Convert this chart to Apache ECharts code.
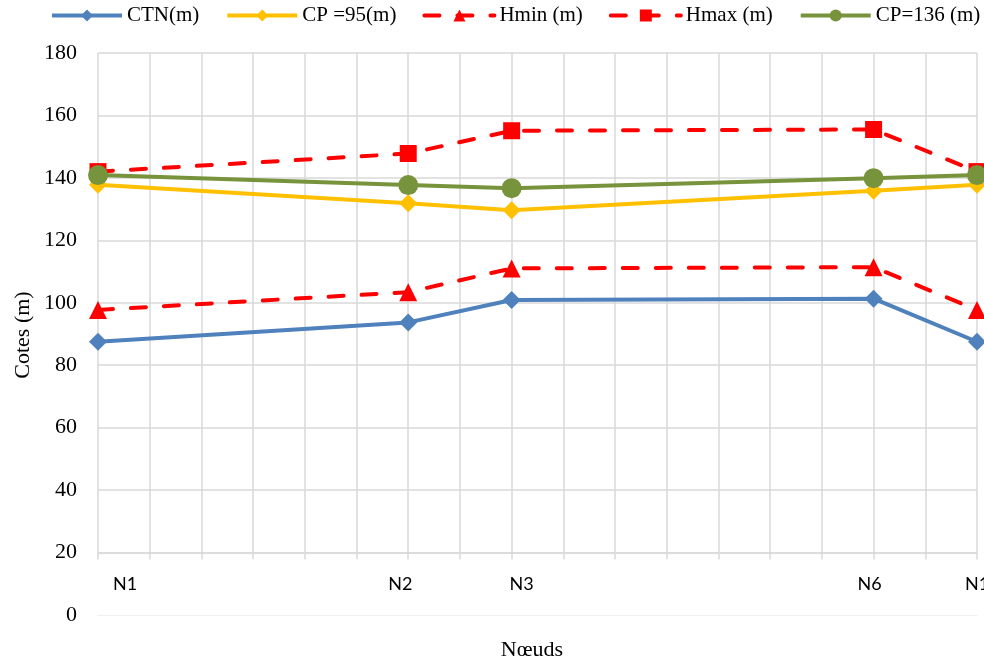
<!DOCTYPE html>
<html>
<head>
<meta charset="utf-8">
<script src="https://cdn.jsdelivr.net/npm/echarts@6/dist/echarts.min.js"></script>
<style>
  html, body { margin: 0; padding: 0; background: #fff; }
  #chart { width: 984px; height: 666px; }
</style>
</head>
<body>
<div id="chart"></div>
<script>
// Node axis: 18 evenly spaced steps, only the network nodes are labelled
const categories = ['N1', '', '', '', '', '', 'N2', '', 'N3', '', '', '', '', '', '', 'N6', '', 'N1'];

// Elevations (m) at each labelled node, in axis order
const ctn   = [87.5, 93.7, 100.9, 101.3, 87.5];
const cp95  = [137.8, 131.9, 129.6, 135.9, 137.8];
const hmin  = [97.7, 103.4, 111.0, 111.4, 97.7];
const hmax  = [142.0, 147.8, 155.1, 155.5, 142.0];
const cp136 = [140.9, 137.7, 136.7, 139.9, 140.9];

// Value axis range
const yMin = 0;
const yAxisBreak = 20;
const yMax = 180;
const yStep = 20;

// Place node values on their axis steps; unlabelled steps stay empty
const slots = categories.map((c, i) => (c ? i : -1)).filter(i => i >= 0);
function spread(vals) {
  const out = categories.map(() => null);
  slots.forEach((s, k) => { out[s] = vals[k]; });
  return out;
}

const serif = '"Liberation Serif", "Times New Roman", serif';
const gridColor = '#d9d9d9';

// Horizontal nudges (px) for node labels under the axis
const labelShift = { 0: 27, 6: -8, 8: 10, 15: -4, 17: 0 };
const rich = {};
Object.keys(labelShift).forEach(k => {
  const d = labelShift[k];
  rich['s' + k] = {
    fontFamily: 'Lato, sans-serif', fontSize: 18, color: '#000',
    padding: d >= 0 ? [0, 0, 0, 2 * d] : [0, -2 * d, 0, 0]
  };
});

function lineSeries(name, vals, color, symbol, size, dashed) {
  return {
    name: name,
    type: 'line',
    xAxisIndex: 0,
    yAxisIndex: 0,
    data: spread(vals),
    connectNulls: true,
    symbol: symbol,
    symbolSize: size,
    showAllSymbol: true,
    lineStyle: {
      color: color,
      width: 4,
      type: dashed ? [15, 18] : 'solid',
      cap: dashed ? 'round' : 'butt'
    },
    itemStyle: { color: color },
    emphasis: { disabled: true },
    animation: false
  };
}

const chart = echarts.init(document.getElementById('chart'), null, { renderer: 'canvas' });

chart.setOption({
  backgroundColor: '#fff',
  animation: false,
  legend: {
    left: 50,
    top: 5,
    padding: 0,
    width: 934,
    itemWidth: 70,
    itemHeight: 15,
    itemGap: 26,
    lineStyle: { width: 4 },
    textStyle: { fontFamily: serif, fontSize: 21, color: '#000' },
    data: ['CTN(m)', 'CP =95(m)', 'Hmin (m)', 'Hmax (m)', 'CP=136 (m)']
  },
  grid: [
    { left: 98, right: 7, top: 53, height: 499.5, containLabel: false, outerBoundsMode: 'none' },
    { left: 98, right: 7, top: 552.5, height: 62.5, containLabel: false, outerBoundsMode: 'none' }
  ],
  xAxis: [
    {
      gridIndex: 0,
      type: 'category',
      data: categories,
      boundaryGap: false,
      axisLine: { show: true, lineStyle: { color: gridColor, width: 1.5 } },
      axisTick: { show: true, interval: 0, length: 7, lineStyle: { color: gridColor, width: 1.5 } },
      axisLabel: {
        interval: 0,
        margin: 23,
        fontFamily: 'Lato, sans-serif',
        fontSize: 18,
        color: '#000',
        formatter: (v, i) => (v ? '{s' + i + '|' + v + '}' : ''),
        rich: rich
      },
      splitLine: { show: true, interval: 0, lineStyle: { color: gridColor, width: 1.5 } }
    },
    {
      gridIndex: 1,
      type: 'category',
      data: categories,
      boundaryGap: false,
      axisLine: { show: true, lineStyle: { color: '#efefef', width: 1 } },
      axisTick: { show: false },
      axisLabel: { show: false },
      splitLine: { show: false }
    }
  ],
  yAxis: [
    {
      gridIndex: 0,
      type: 'value',
      min: yAxisBreak,
      max: yMax,
      interval: yStep,
      axisLine: { show: false },
      axisTick: { show: false },
      axisLabel: { margin: 21, fontFamily: serif, fontSize: 22, color: '#000' },
      splitLine: { show: true, lineStyle: { color: gridColor, width: 1.5 } }
    },
    {
      gridIndex: 1,
      type: 'value',
      min: yMin,
      max: yAxisBreak,
      interval: yStep,
      axisLine: { show: false },
      axisTick: { show: false },
      axisLabel: {
        margin: 21, fontFamily: serif, fontSize: 22, color: '#000',
        formatter: v => (v === yMin ? String(v) : '')
      },
      splitLine: { show: false }
    }
  ],
  graphic: [
    {
      type: 'text',
      x: 23,
      y: 335,
      rotation: Math.PI / 2,
      style: {
        text: 'Cotes (m)',
        fontFamily: serif,
        fontSize: 22,
        fill: '#000',
        align: 'center',
        verticalAlign: 'middle'
      }
    },
    {
      type: 'text',
      x: 532,
      y: 650,
      style: {
        text: 'Nœuds',
        fontFamily: serif,
        fontSize: 22,
        fill: '#000',
        align: 'center',
        verticalAlign: 'middle'
      }
    }
  ],
  series: [
    lineSeries('CTN(m)', ctn, '#4F81BD', 'diamond', 18, false),
    lineSeries('CP =95(m)', cp95, '#FFC000', 'diamond', 18, false),
    lineSeries('Hmin (m)', hmin, '#FF0000', 'triangle', 18, true),
    lineSeries('Hmax (m)', hmax, '#FF0000', 'rect', 17, true),
    lineSeries('CP=136 (m)', cp136, '#77933C', 'circle', 20, false)
  ]
});
</script>
</body>
</html>
